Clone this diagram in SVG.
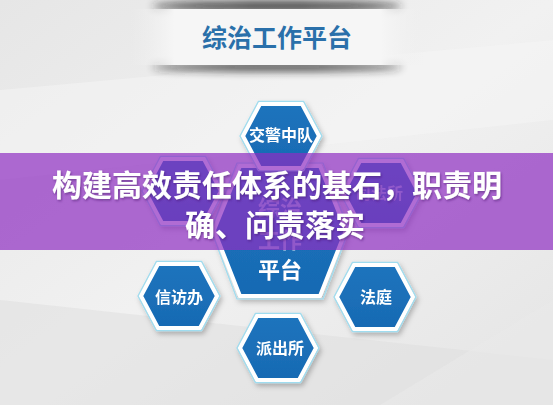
<svg xmlns="http://www.w3.org/2000/svg" width="553" height="405" viewBox="0 0 553 405">
  <defs>
    <linearGradient id="bg" x1="0" y1="0" x2="1" y2="1">
      <stop offset="0" stop-color="#e6e6e6"/>
      <stop offset="0.5" stop-color="#f1f1f1"/>
      <stop offset="1" stop-color="#e4e4e4"/>
    </linearGradient>
    <linearGradient id="banner" x1="0" y1="0" x2="1" y2="0">
      <stop offset="0" stop-color="#efefef" stop-opacity="0"/>
      <stop offset="0.15" stop-color="#f6f6f6"/>
      <stop offset="0.85" stop-color="#f6f6f6"/>
      <stop offset="1" stop-color="#efefef" stop-opacity="0"/>
    </linearGradient>
    <linearGradient id="hexfill" x1="0" y1="0" x2="0" y2="1">
      <stop offset="0" stop-color="#1f74bd"/>
      <stop offset="1" stop-color="#176ab3"/>
    </linearGradient>
    <filter id="blur" x="-20%" y="-200%" width="140%" height="500%">
      <feGaussianBlur stdDeviation="4"/>
    </filter>
    <filter id="sh" x="-30%" y="-30%" width="160%" height="160%">
      <feDropShadow dx="2" dy="3" stdDeviation="2.5" flood-color="#000" flood-opacity="0.25"/>
    </filter>
    <filter id="tsh" x="-10%" y="-30%" width="120%" height="160%">
      <feDropShadow dx="1" dy="1.5" stdDeviation="1" flood-color="#3a1060" flood-opacity="0.5"/>
    </filter>
    <polygon id="hex" points="-38,0 -21,-32 21,-32 38,0 21,32 -21,32"/>
    <style>
      .hx { fill: url(#hexfill); stroke: #ffffff; stroke-width: 4; stroke-linejoin: round; }
      .hxo { fill: none; stroke: #9fdcef; stroke-width: 1.2; stroke-linejoin: round; }
      .lbl { font-family: "Noto Sans CJK SC", "Liberation Sans", sans-serif; font-size: 16px; font-weight: 700; fill: #ffffff; text-anchor: middle; }
      .big { font-family: "Noto Sans CJK SC", "Liberation Sans", sans-serif; font-size: 22px; font-weight: 700; fill: #ffffff; text-anchor: middle; }
      .faint { opacity: 0.55; }
      .title { font-family: "Noto Sans CJK SC", "Liberation Sans", sans-serif; font-size: 25px; font-weight: 700; fill: #2a70aa; text-anchor: middle; }
      .band { font-family: "Noto Sans CJK SC", "Liberation Sans", sans-serif; font-size: 30px; font-weight: 700; fill: #ffffff; text-anchor: middle; }
    </style>
  </defs>

  <!-- background -->
  <rect x="0" y="0" width="553" height="405" fill="url(#bg)"/>
  <polygon points="0,90 553,40 553,120 0,180" fill="#f6f6f6" opacity="0.5"/>
  <polygon points="0,300 553,360 553,405 0,405" fill="#dedede" opacity="0.5"/>
  <polygon points="380,405 553,300 553,405" fill="#e9e9e9" opacity="0.6"/>

  <!-- title banner -->
  <g id="title">
    <ellipse cx="277" cy="6" rx="125" ry="5" fill="#222" opacity="0.85" filter="url(#blur)"/>
    <ellipse cx="277" cy="67" rx="125" ry="4" fill="#222" opacity="0.85" filter="url(#blur)"/>
    <rect x="130" y="9" width="295" height="56" fill="url(#banner)"/>
    <text class="title" x="277" y="47">综治工作平台</text>
  </g>

  <!-- nodes -->
  <g id="node-center" filter="url(#sh)">
    <polygon class="hx" points="240,296 320,296 346,230 320,166 240,166 214,230"/>
    <polygon class="hxo" points="237,299 323,299 349,230 323,163 237,163 211,230"/>
    <text class="big faint" x="280" y="216">综治</text>
    <text class="big faint" x="280" y="248">工作</text>
    <text class="big" x="280" y="278">平台</text>
  </g>
  <g id="node-jiaojing" filter="url(#sh)">
    <use href="#hex" class="hx" transform="translate(281,136)"/>
    <use href="#hex" class="hxo" transform="translate(281,136) scale(1.08)"/>
    <text class="lbl" x="281" y="141">交警中队</text>
  </g>
  <g id="node-upperleft" filter="url(#sh)">
    <use href="#hex" class="hx" transform="translate(183,191)"/>
    <use href="#hex" class="hxo" transform="translate(183,191) scale(1.08)"/>
  </g>
  <g id="node-sifasuo" filter="url(#sh)">
    <use href="#hex" class="hx" transform="translate(381,193)"/>
    <use href="#hex" class="hxo" transform="translate(381,193) scale(1.08)"/>
    <text class="lbl faint" x="379" y="199">司法所</text>
  </g>
  <g id="node-xinfang" filter="url(#sh)">
    <use href="#hex" class="hx" transform="translate(179,296)"/>
    <use href="#hex" class="hxo" transform="translate(179,296) scale(1.08)"/>
    <text class="lbl" x="179" y="303">信访办</text>
  </g>
  <g id="node-fating" filter="url(#sh)">
    <use href="#hex" class="hx" transform="translate(375,297)"/>
    <use href="#hex" class="hxo" transform="translate(375,297) scale(1.08)"/>
    <text class="lbl" x="376" y="303">法庭</text>
  </g>
  <g id="node-paichusuo" filter="url(#sh)">
    <use href="#hex" class="hx" transform="translate(278,348)"/>
    <use href="#hex" class="hxo" transform="translate(278,348) scale(1.08)"/>
    <text class="lbl" x="280" y="354">派出所</text>
  </g>

  <g id="connectors"></g>

  <!-- overlay band -->
  <g id="band">
    <rect x="0" y="153" width="553" height="97" fill="#8e2ec2" opacity="0.7"/>
    <g filter="url(#tsh)">
      <text class="band" x="277" y="196">构建高效责任体系的基石，职责明</text>
      <text class="band" x="275" y="236">确、问责落实</text>
    </g>
  </g>
</svg>
